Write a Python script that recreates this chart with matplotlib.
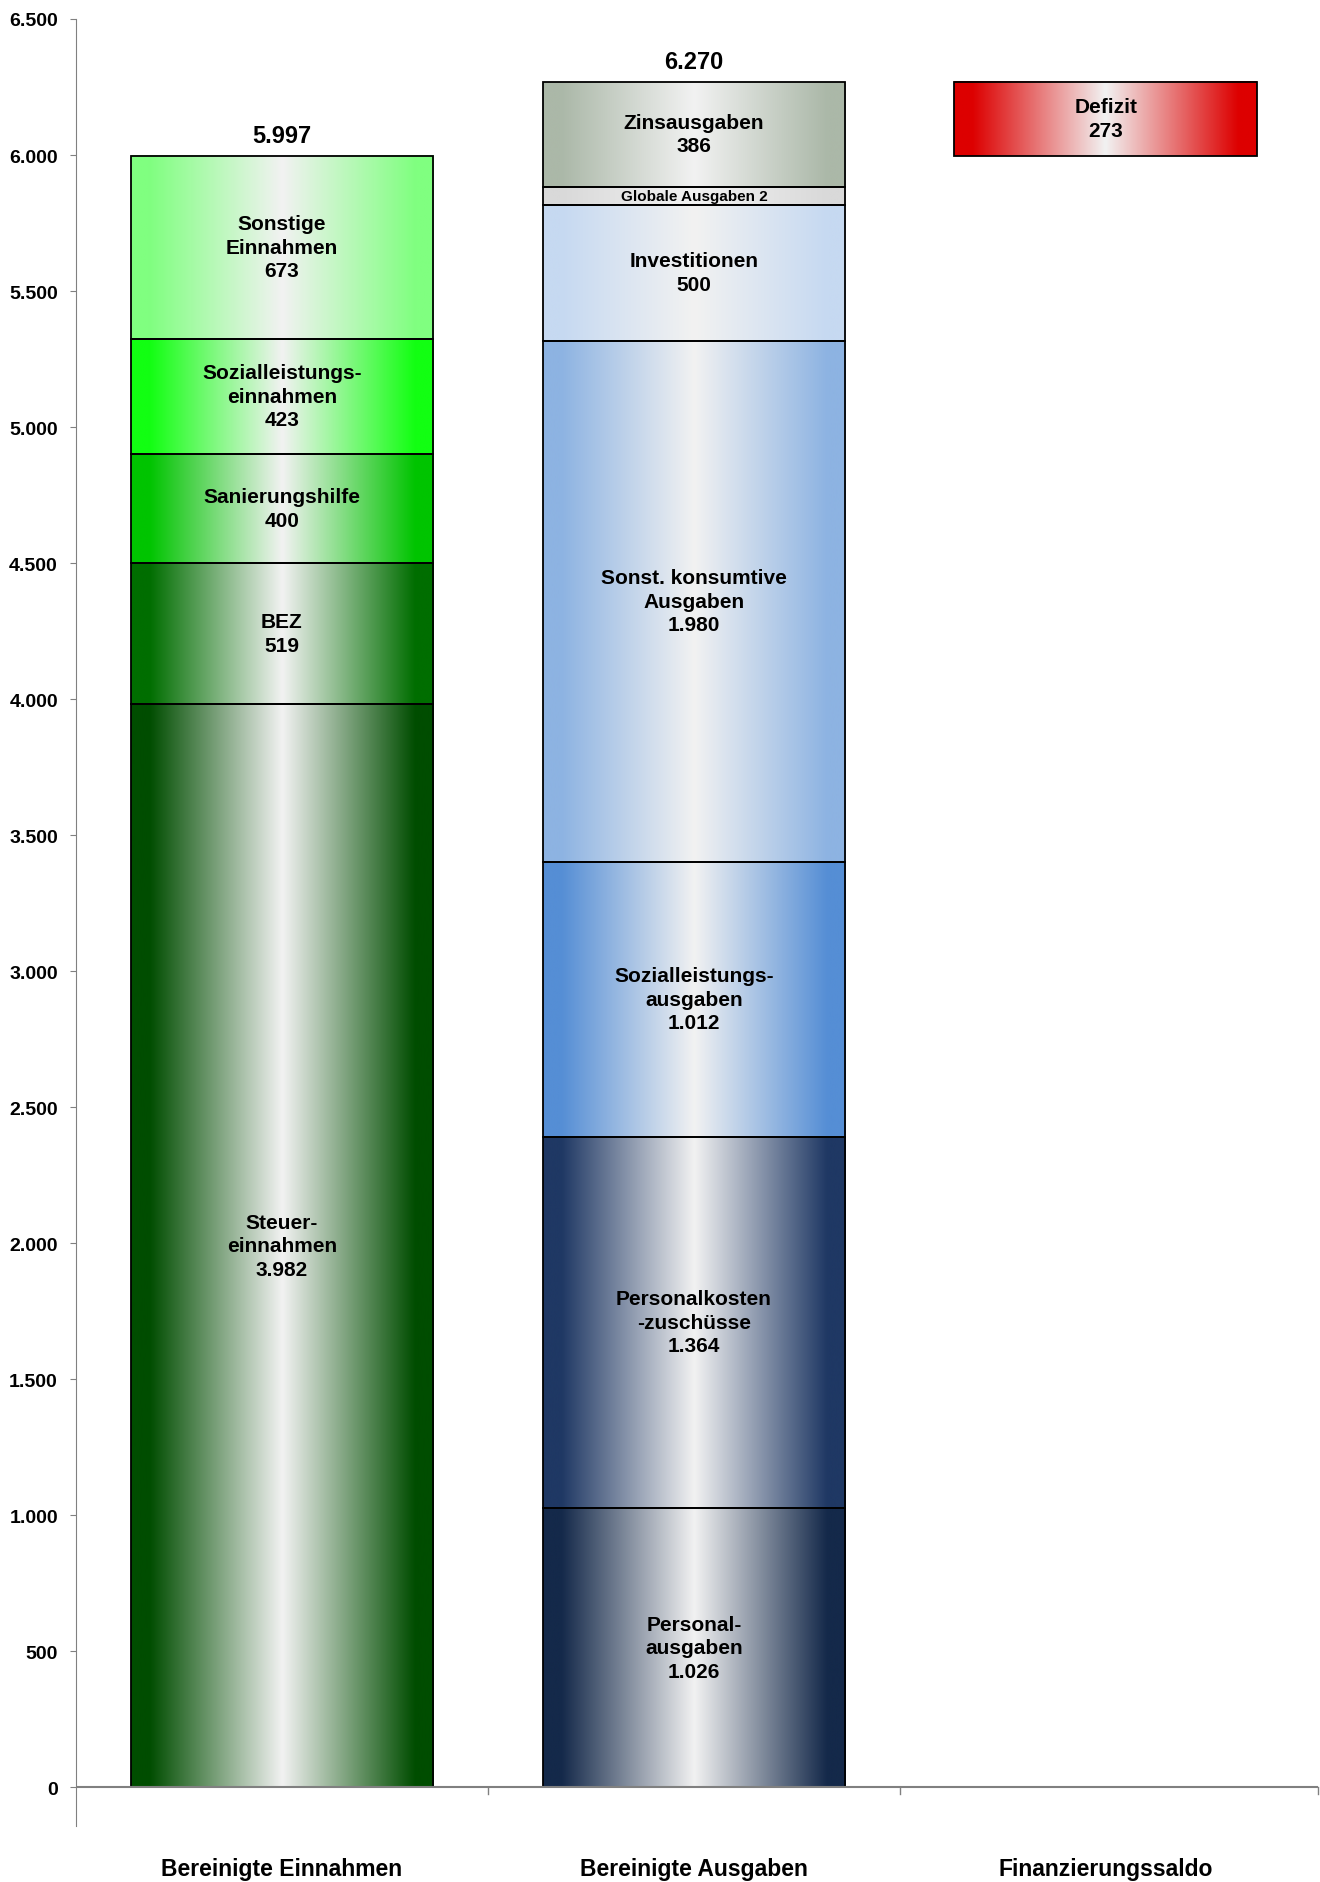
import numpy as np
import matplotlib
matplotlib.use("Agg")
import matplotlib.pyplot as plt
from matplotlib.colors import to_rgb

plt.rcParams['font.family'] = ['Liberation Sans', 'DejaVu Sans']
plt.rcParams['font.weight'] = 'bold'

categories = ['Bereinigte Einnahmen', 'Bereinigte Ausgaben', 'Finanzierungssaldo']

# Einnahmen (bottom to top)
ein_labels = ['Steuer-\neinnahmen\n3.982', 'BEZ\n519', 'Sanierungshilfe\n400',
              'Sozialleistungs-\neinnahmen\n423', 'Sonstige\nEinnahmen\n673']
ein_values = [3982, 519, 400, 423, 673]
ein_colors = ['#004d00', '#006e00', '#00c400', '#12ff12', '#80ff80']

# Ausgaben (bottom to top), heights as drawn
aus_labels = ['Personal-\nausgaben\n1.026', 'Personalkosten\n-zuschüsse\n1.364',
              'Sozialleistungs-\nausgaben\n1.012', 'Sonst. konsumtive\nAusgaben\n1.980',
              'Investitionen\n500', 'Globale Ausgaben 2', 'Zinsausgaben\n386']
aus_values = [1026, 1364, 1012, 1916, 500, 66, 386]
aus_colors = ['#14294a', '#1f3864', '#558ed5', '#8db3e2', '#c6d9f1', '#d9d9d9', '#abb8a8']

# Finanzierungssaldo (floating bar)
saldo_base = 5997
saldo_value = 273
saldo_label = 'Defizit\n273'
saldo_color = '#dd0000'

totals = [5997, 6270]


def gradient(edge, center='#f2f2f2', n=256):
    e = np.array(to_rgb(edge))
    c = np.array(to_rgb(center))
    t = np.linspace(0, 1, n)
    d = np.abs(t - 0.5) / 0.5
    f = np.clip(d / 0.88, 0, 1)
    img = c[None, :] * (1 - f[:, None]) + e[None, :] * f[:, None]
    return img[None, :, :]


def draw_segment(ax, x, bottom, height, color, label, width, fs=15):
    ax.imshow(gradient(color), extent=(x - width / 2, x + width / 2, bottom, bottom + height),
              aspect='auto', interpolation='bicubic', zorder=2)
    ax.bar(x, height, width, bottom=bottom, fill=False, edgecolor='black', linewidth=1.3, zorder=3)
    ax.text(x, bottom + height / 2, label, ha='center', va='center', fontsize=fs,
            fontweight='bold', linespacing=1.3, zorder=4)


fig = plt.figure(figsize=(13.2, 18.83), dpi=100)
ax = fig.add_axes([76 / 1320, (1883 - 1827) / 1883, (1318 - 76) / 1320, (1827 - 20) / 1883])

width = 0.735

bottom = 0
for v, c, l in zip(ein_values, ein_colors, ein_labels):
    draw_segment(ax, 0, bottom, v, c, l, width)
    bottom += v

bottom = 0
for v, c, l in zip(aus_values, aus_colors, aus_labels):
    fs = 11 if v < 100 else 15
    draw_segment(ax, 1, bottom, v, c, l, width, fs=fs)
    bottom += v

draw_segment(ax, 2, saldo_base, saldo_value, saldo_color, saldo_label, width)

for i, t in enumerate(totals):
    ax.annotate(f"{t:,}".replace(',', '.'), (i, t), xytext=(0, 6), textcoords='offset points',
                ha='center', va='bottom', fontsize=17, fontweight='bold')

ax.set_xlim(-0.5, 2.515)
ax.set_ylim(-143, 6500)

ax.spines['top'].set_visible(False)
ax.spines['right'].set_visible(False)
ax.spines['bottom'].set_visible(False)
ax.spines['left'].set_color('#808080')
ax.spines['left'].set_bounds(-143, 6500)

yt = np.arange(0, 6501, 500)
ax.set_yticks(yt)
ax.set_yticklabels([f"{v:,}".replace(',', '.') for v in yt], fontsize=14, fontweight='bold')
ax.tick_params(axis='y', direction='out', length=4, color='#808080', pad=9)

# category axis at zero
ax.axhline(0, color='#808080', linewidth=1.5, zorder=5)
ax.set_xticks([])
for b in [0.5, 1.5, 2.515]:
    ax.plot([b, b], [0, -26], color='#808080', linewidth=1, clip_on=False, zorder=5)

for i, name in enumerate(categories):
    ax.text(i, -0.0235, name, transform=ax.get_xaxis_transform(), ha='center', va='center',
            fontsize=16.5, fontweight='bold')

fig.savefig('out.png', dpi=100)
